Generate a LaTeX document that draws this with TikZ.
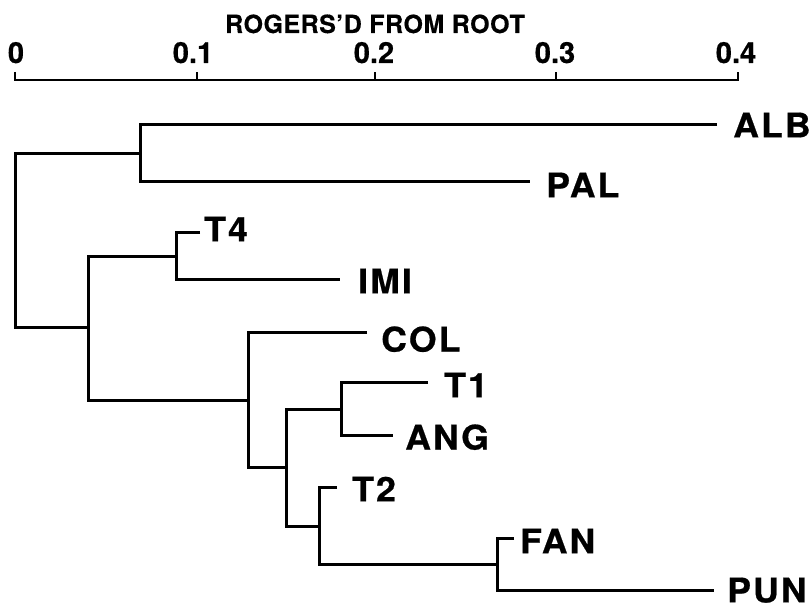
\documentclass[tikz,border=0pt]{standalone}
\usepackage{fontspec}
\setmainfont{TeX Gyre Heros}
\newfontfamily\leaffont{TeX Gyre Heros}[FakeStretch=1.05, FakeBold=0.6, LetterSpace=6]
\newfontfamily\tickfont{TeX Gyre Heros}[FakeBold=0.5]
\newfontfamily\titlefont{TeX Gyre Heros}[FakeBold=0.4, LetterSpace=2]
\begin{document}
\begin{tikzpicture}[x=1pt,y=-1pt,
  br/.style={line width=3pt, line join=miter},
  axisline/.style={line width=2.6pt, line join=miter},
  leaf/.style={anchor=west, inner sep=0pt, text depth=0pt,
    font=\leaffont\bfseries\fontsize{34}{34}\selectfont},
  ticklab/.style={anchor=base, inner sep=0pt,
    font=\tickfont\bfseries\fontsize{29}{29}\selectfont},
  titlelab/.style={anchor=base, inner sep=0pt,
    font=\titlefont\bfseries\fontsize{25}{25}\selectfont}]
\useasboundingbox (0,0) rectangle (811,609);

% title and axis
\node[titlelab] (title) at (375,33) {ROGERS’D FROM ROOT};
\foreach \n/\x in {0/15,1/197,2/375,3/556,4/738}{
  \coordinate (t\n) at (\x,80);
  \coordinate (u\n) at (\x,72);
}
\node[ticklab] (l0) at (16,63) {0};
\node[ticklab] (l1) at (193,63) {0.1};
\node[ticklab] (l2) at (374,63) {0.2};
\node[ticklab] (l3) at (555,63) {0.3};
\node[ticklab] (l4) at (736,63) {0.4};
\draw[axisline] (u0) -- (t0) -- (t4) -- (u4);
\draw[axisline] (t1) -- (u1);
\draw[axisline] (t2) -- (u2);
\draw[axisline] (t3) -- (u3);

% internal nodes
\coordinate (root) at (15,240.75);
\coordinate (ap) at (140,153.5);
\coordinate (lo) at (88,328);
\coordinate (ti) at (176,256.5);
\coordinate (cn) at (248,400);
\coordinate (sb) at (286,467.5);
\coordinate (ta) at (341,409);
\coordinate (tn) at (319,526);
\coordinate (fp) at (497,564);

% leaf line ends
\coordinate (eALB) at (717,125);
\coordinate (ePAL) at (530,182);
\coordinate (eT4) at (200,233);
\coordinate (eIMI) at (340,280);
\coordinate (eCOL) at (367,333);
\coordinate (eT1) at (428,383);
\coordinate (eANG) at (393,435);
\coordinate (eT2) at (337,487);
\coordinate (eFAN) at (514,538);
\coordinate (ePUN) at (714,590);

% leaf labels
\node[leaf] (ALB) at (733,125) {ALB};
\node[leaf] (PAL) at (546,185) {PAL};
\node[leaf] (T4) at (204,229) {T4};
\node[leaf] (IMI) at (358,281) {IMI};
\node[leaf] (COL) at (381,339) {COL};
\node[leaf] (T1) at (444,385) {T1};
\node[leaf] (ANG) at (405,437) {ANG};
\node[leaf] (T2) at (352,489) {T2};
\node[leaf] (FAN) at (520,541) {FAN};
\node[leaf] (PUN) at (727,590) {PUN};

% branches
\draw[br] (ap) -| (root) |- (lo);
\draw[br] (eALB) -| (ap) |- (ePAL);
\draw[br] (ti) -| (lo) |- (cn);
\draw[br] (eT4) -| (ti) |- (eIMI);
\draw[br] (eCOL) -| (cn) |- (sb);
\draw[br] (ta) -| (sb) |- (tn);
\draw[br] (eT1) -| (ta) |- (eANG);
\draw[br] (eT2) -| (tn) |- (fp);
\draw[br] (eFAN) -| (fp) |- (ePUN);
\end{tikzpicture}
\end{document}
